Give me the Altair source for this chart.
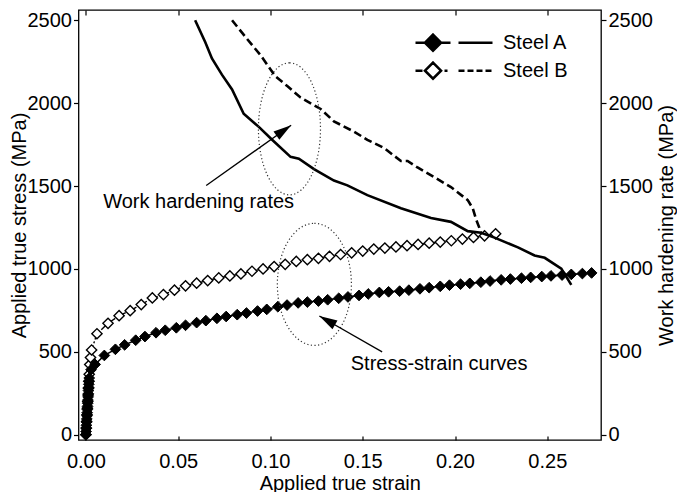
import math
import altair as alt
import pandas as pd

FONT = "Liberation Sans"
FS = 20

# ---------------- data ----------------
# Stress-strain curve, Steel A (filled diamonds)
ss_a_strain = [0.0000, 0.0001, 0.0002, 0.0003, 0.0004, 0.0005, 0.0006, 0.0007, 0.0008, 0.0009,
               0.0010, 0.0011, 0.0012, 0.0013, 0.0014, 0.0015, 0.0016, 0.0017, 0.0018, 0.0028,
               0.005, 0.010, 0.016, 0.021, 0.027, 0.032, 0.038, 0.043, 0.049, 0.054,
               0.060, 0.065, 0.071, 0.076, 0.082, 0.087, 0.093, 0.098, 0.104, 0.109,
               0.115, 0.120, 0.126, 0.131, 0.137, 0.142, 0.148, 0.153, 0.159, 0.164,
               0.170, 0.175, 0.181, 0.186, 0.192, 0.197, 0.203, 0.208, 0.214, 0.219,
               0.225, 0.230, 0.236, 0.241, 0.247, 0.252, 0.258, 0.263, 0.269, 0.274]
ss_a_stress = [0, 19, 38, 57, 76, 95, 114, 133, 152, 171,
               190, 209, 228, 247, 266, 285, 304, 323, 342, 392,
               424, 478, 515, 542, 570, 592, 615, 630, 645, 660,
               676, 688, 702, 713, 724, 734, 746, 756, 772, 782,
               795, 800, 806, 814, 823, 831, 840, 849, 858, 862,
               866, 872, 880, 887, 895, 902, 908, 913, 920, 927,
               934, 939, 944, 949, 954, 958, 963, 967, 972, 976]

# Stress-strain curve, Steel B (open diamonds)
ss_b_strain = [0.0000, 0.0002, 0.0004, 0.0006, 0.0008, 0.0010, 0.0012, 0.0014, 0.0016, 0.0018,
               0.0021, 0.0025, 0.0031,
               0.006, 0.012, 0.018, 0.024, 0.030, 0.036, 0.042, 0.048, 0.054, 0.060,
               0.066, 0.072, 0.078, 0.084, 0.090, 0.096, 0.102, 0.108, 0.114, 0.120,
               0.126, 0.132, 0.138, 0.144, 0.150, 0.156, 0.162, 0.168, 0.174, 0.180,
               0.186, 0.192, 0.198, 0.204, 0.210, 0.216, 0.222]
ss_b_stress = [0, 40, 80, 120, 160, 200, 240, 280, 322, 364,
               423, 465, 511,
               609, 672, 718, 748, 785, 825, 845, 872, 898, 914,
               930, 946, 958, 970, 986, 1000, 1014, 1028, 1045, 1056,
               1064, 1076, 1087, 1097, 1108, 1120, 1126, 1133, 1140, 1148,
               1155, 1162, 1170, 1180, 1190, 1200, 1212]

# Work hardening rate, Steel A (solid line)
wh_a_strain = [0.0592, 0.0647, 0.0683, 0.0737, 0.0792, 0.0855, 0.0937, 0.1009, 0.1109, 0.1154,
               0.1236, 0.1344, 0.1417, 0.1525, 0.1707, 0.1870, 0.1978, 0.2069, 0.2141, 0.2214,
               0.2341, 0.2431, 0.2486, 0.2576, 0.2630]
wh_a_rate = [2500, 2368, 2270, 2172, 2083, 1936, 1857, 1779, 1676, 1665,
             1602, 1533, 1504, 1445, 1366, 1307, 1284, 1228, 1218, 1189,
             1130, 1081, 1067, 1002, 904]

# Work hardening rate, Steel B (dashed line)
wh_b_strain = [0.0792, 0.0873, 0.0946, 0.1027, 0.1091, 0.1163, 0.1272, 0.1344, 0.1453, 0.1525,
               0.1616, 0.1707, 0.1743, 0.1797, 0.1888, 0.1978, 0.2069, 0.2096, 0.2114, 0.2132,
               0.2141]
wh_b_rate = [2500, 2388, 2290, 2162, 2103, 2034, 1965, 1890, 1828, 1779,
             1729, 1651, 1651, 1612, 1553, 1494, 1415, 1366, 1300, 1248,
             1218]

series_names = ["Steel A", "Steel B"]
x_ticks = [0.00, 0.05, 0.10, 0.15, 0.20, 0.25]
y_ticks = [0, 500, 1000, 1500, 2000, 2500]

# annotations (data coordinates)
note_labels = ["Work hardening rates", "Stress-strain curves"]
note_x = [0.0611, 0.1914]
note_y = [1402, 424]
arrow_x1 = [0.0652, 0.1605]
arrow_y1 = [1503, 500]
arrow_x2 = [0.1112, 0.1265]
arrow_y2 = [1867, 716]
ellipse_x = [0.1103, 0.1238]
ellipse_y = [1845, 907]

# ---------------- layout ----------------
W, H = 522.5, 430
X_DOM = [-0.004, 0.2791]
Y_DOM = [-32, 2562]
kx = W / (X_DOM[1] - X_DOM[0])
ky = H / (Y_DOM[1] - Y_DOM[0])
arrow_ang = []
for a, b, c, d in zip(arrow_x1, arrow_y1, arrow_x2, arrow_y2):
    dx = (c - a) * kx
    dy = -(d - b) * ky
    arrow_ang.append(math.degrees(math.atan2(dx, -dy)) % 360)

xs = alt.Scale(domain=X_DOM, nice=False, zero=False)
ys = alt.Scale(domain=Y_DOM, nice=False, zero=False)


def X(field, axis=None):
    return alt.X(field, type="quantitative", scale=xs, axis=axis)


def Y(field, axis=None):
    return alt.Y(field, type="quantitative", scale=ys, axis=axis)


ss_a = pd.DataFrame({"strain": ss_a_strain, "stress": ss_a_stress})
ss_b = pd.DataFrame({"strain": ss_b_strain, "stress": ss_b_stress})
wh_a = pd.DataFrame({"strain": wh_a_strain, "rate": wh_a_rate})
wh_b = pd.DataFrame({"strain": wh_b_strain, "rate": wh_b_rate})
key_df = pd.DataFrame({"steel": series_names})
notes = pd.DataFrame({"x": note_x, "y": note_y, "label": note_labels})
arrows = pd.DataFrame({"x1": arrow_x1, "y1": arrow_y1, "x2": arrow_x2, "y2": arrow_y2, "ang": arrow_ang})
ell1 = pd.DataFrame({"x": ellipse_x[:1], "y": ellipse_y[:1]})
ell2 = pd.DataFrame({"x": ellipse_x[1:], "y": ellipse_y[1:]})

# legend key paths (marker line with diamond, gap, curve line); unit = 11.5 px
PATH_A = ("M-3.348,0L-2.522,0M-1.130,0L-0.304,0"
          "M-1.826,-0.696L-1.130,0L-1.826,0.696L-2.522,0Z"
          "M0.391,0L3.348,0")
PATH_B = ("M-3.348,0L-2.739,0"
          "M-1.826,-0.696L-1.130,0L-1.826,0.696L-2.522,0Z"
          "M-0.826,0L-0.565,0"
          "M0.391,0L0.913,0M1.174,0L1.696,0M1.957,0L2.478,0M2.739,0L3.261,0")
ELL1 = "M 0 -1 A 0.47 1 0 1 1 0 1 A 0.47 1 0 1 1 0 -1 Z"
ELL2 = "M 0 -1 A 0.607 1 0 1 1 0 1 A 0.607 1 0 1 1 0 -1 Z"
HEAD = "M 0 0 L 0.28 1 L -0.28 1 Z"

axis_common = dict(domain=False, grid=False, tickColor="black", tickWidth=1.2,
                   labelFont=FONT, labelFontSize=FS, labelColor="black",
                   titleFont=FONT, titleFontSize=FS, titleFontWeight="normal", titleColor="black")

x_axis_bottom = alt.Axis(orient="bottom", values=x_ticks, format=".2f", title="Applied true strain",
                         tickSize=4, offset=-4, labelPadding=11, titlePadding=2, **axis_common)
x_axis_top = alt.Axis(orient="top", values=x_ticks, labels=False, title=None,
                      tickSize=5, offset=-5, **axis_common)
y_axis_left = alt.Axis(orient="left", values=y_ticks, format="d", title="Applied true stress (MPa)",
                       tickSize=5, labelPadding=2, titlePadding=-2, **axis_common)
y_axis_right = alt.Axis(orient="right", values=y_ticks, format="d", title="Work hardening rate (MPa)",
                        tickSize=5, labelPadding=2, titlePadding=4, titleAngle=270,
                        titleBaseline="top", **axis_common)

legend = alt.Legend(
    title=None, orient="none", legendX=362.5, legendY=19.7, padding=0,
    symbolSize=529, symbolStrokeWidth=2.6, symbolStrokeColor="black", symbolOpacity=1,
    rowPadding=0, labelOffset=36,
    labelFont=FONT, labelFontSize=FS, labelColor="black",
)

ss_b_line = alt.Chart(ss_b).mark_line(color="black", strokeWidth=1.4, strokeDash=[6, 2, 2, 2]).encode(
    x=X("strain"), y=Y("stress"))
ss_a_line = alt.Chart(ss_a).mark_line(color="black", strokeWidth=1.5).encode(
    x=X("strain"), y=Y("stress"))
ss_b_pts = alt.Chart(ss_b).mark_point(shape="diamond", filled=True, fill="white", stroke="black",
                                      strokeWidth=1.4, size=105, opacity=1).encode(
    x=X("strain"), y=Y("stress"))
ss_a_pts = alt.Chart(ss_a).mark_point(shape="diamond", filled=True, fill="black", stroke="black",
                                      strokeWidth=1, size=115, opacity=1).encode(
    x=X("strain", x_axis_bottom), y=Y("stress", y_axis_left))
wh_a_line = alt.Chart(wh_a).mark_line(color="black", strokeWidth=2.6).encode(
    x=X("strain"), y=Y("rate", y_axis_right))
wh_b_line = alt.Chart(wh_b).mark_line(color="black", strokeWidth=2.6, strokeDash=[8, 4]).encode(
    x=X("strain"), y=Y("rate"))
# legend-only layer: the key is drawn from the shape/fill/stroke scales (its rows are filtered out)
key = alt.Chart(key_df).transform_filter("false").mark_point(
    filled=True, strokeWidth=2.6, size=529, opacity=1).encode(
    shape=alt.Shape("steel:N", scale=alt.Scale(domain=series_names, range=[PATH_A, PATH_B]), legend=legend),
    fill=alt.Fill("steel:N", scale=alt.Scale(domain=series_names, range=["black", "white"]), legend=legend),
    stroke=alt.Stroke("steel:N", scale=alt.Scale(domain=series_names, range=["black", "black"]), legend=legend),
)
e1 = alt.Chart(ell1).mark_point(shape=ELL1, size=17424, filled=False, stroke="#333333",
                                strokeWidth=1.2, strokeDash=[1.2, 2.4], opacity=1).encode(
    x=X("x", x_axis_top), y=Y("y"))
e2 = alt.Chart(ell2).mark_point(shape=ELL2, size=14884, filled=False, stroke="#333333",
                                strokeWidth=1.2, strokeDash=[1.2, 2.4], opacity=1).encode(
    x=X("x"), y=Y("y"))
rules = alt.Chart(arrows).mark_rule(color="black", strokeWidth=1.3).encode(
    x=X("x1"), y=Y("y1"), x2="x2", y2="y2")
heads = alt.Chart(arrows).mark_point(shape=HEAD, filled=True, color="black", size=1296, opacity=1).encode(
    x=X("x2"), y=Y("y2"), angle=alt.Angle("ang", type="quantitative", scale=None))
texts = alt.Chart(notes).mark_text(font=FONT, fontSize=FS, color="black", align="center",
                                   baseline="middle").encode(
    x=X("x"), y=Y("y"), text="label:N")

chart = alt.layer(
    ss_b_line, ss_a_line, ss_b_pts, ss_a_pts, wh_a_line, wh_b_line, key, e1, e2, rules, heads, texts
).resolve_scale(y="independent").resolve_axis(x="independent", y="independent").properties(
    width=W, height=H,
    autosize=alt.AutoSizeParams(type="none"),
    padding={"left": 70.5, "top": 2, "right": 76, "bottom": 52},
    background="white",
).configure_view(stroke="black", strokeWidth=1.3)

chart.save("out.html", embed_options={"renderer": "svg", "actions": False})
